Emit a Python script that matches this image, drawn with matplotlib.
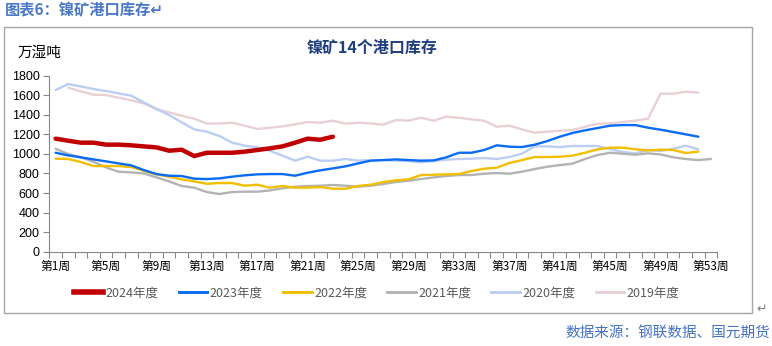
import matplotlib
matplotlib.use("Agg")
import matplotlib.pyplot as plt
from matplotlib.patches import Rectangle
from matplotlib.lines import Line2D

plt.rcParams['font.family'] = ['Noto Sans CJK SC', 'DejaVu Sans']

weeks = [f"第{i}周" for i in range(1, 54)]
tick_weeks = list(range(1, 54, 4))

y2024 = [1156, 1135, 1115, 1115, 1095, 1095, 1088, 1077, 1067, 1033, 1043, 978, 1012,
         1012, 1012, 1023, 1040, 1057, 1077, 1115, 1156, 1145, 1176]
y2023 = [1012, 985, 965, 944, 924, 903, 883, 835, 794, 777, 774, 747, 743, 750, 767, 781,
         791, 794, 794, 777, 808, 832, 852, 873, 903, 931, 937, 944,
         937, 931, 934, 965, 1012, 1012, 1040, 1088, 1074, 1070, 1094, 1131, 1176, 1214,
         1241, 1265, 1289, 1295, 1295, 1268, 1248, 1224, 1200, 1176]
y2022 = [951, 948, 917, 876, 876, 876, 866, 828, 791, 767, 740, 719, 695, 702, 702, 675,
         685, 655, 672, 655, 655, 661, 644, 644, 672, 685, 712, 730,
         740, 784, 787, 791, 794, 825, 849, 859, 907, 937, 968, 968, 971, 982, 1012,
         1047, 1064, 1064, 1047, 1036, 1043, 1040, 1009, 1023]
y2021 = [1053, 999, 965, 920, 862, 818, 811, 801, 760, 719, 672, 655, 610, 590, 610, 614,
         614, 627, 648, 665, 672, 675, 682, 675, 665, 675, 692, 713,
         726, 743, 760, 774, 784, 784, 798, 805, 798, 818, 845, 869, 886, 900, 948,
         989, 1012, 1002, 992, 1006, 995, 965, 948, 937, 948]
y2020 = [1653, 1715, 1690, 1664, 1643, 1619, 1595, 1527, 1459, 1398, 1323, 1251, 1227,
         1183, 1115, 1084, 1067, 1033, 982, 931, 972, 931, 931, 948, 931, 937, 937, 931,
         927, 914, 927, 941, 948, 951, 958, 948, 968, 1002, 1077, 1077, 1070, 1081, 1081,
         1081, 1050, 1019, 1006, 1040, 1030, 1053, 1084, 1047]
y2019 = [None, 1677, 1640, 1606, 1602, 1575, 1548, 1517, 1459, 1425, 1391, 1360, 1309,
         1312, 1319, 1289, 1255, 1268, 1282, 1302, 1326, 1319, 1340, 1309, 1319, 1312,
         1299, 1347, 1340, 1370, 1340, 1381, 1370, 1353, 1340, 1278, 1289, 1251, 1217,
         1227, 1237, 1244, 1278, 1309, 1312, 1326, 1340, 1360, 1616, 1616, 1636, 1626]

series = [
    ("2024年度", y2024, "#C00000", 3.2),
    ("2023年度", y2023, "#0A6CF5", 1.7),
    ("2022年度", y2022, "#F2BE00", 1.7),
    ("2021年度", y2021, "#B3B3B3", 1.7),
    ("2020年度", y2020, "#BCCDF3", 1.7),
    ("2019年度", y2019, "#E9D0D3", 1.7),
]

W, H = 772, 346
fig = plt.figure(figsize=(W / 100, H / 100), dpi=100)

ax = fig.add_axes([49.3 / W, 1 - 251.7 / H, (717.3 - 49.3) / W, (251.7 - 75.7) / H])

handles = []
for name, vals, color, lw in reversed(series):
    xs = [i for i, v in enumerate(vals) if v is not None]
    ys = [v for v in vals if v is not None]
    ax.plot(xs, ys, color=color, lw=lw, solid_capstyle='round', solid_joinstyle='round')
for name, vals, color, lw in series:
    handles.append(Line2D([0], [0], color=color, lw=lw + (0.8 if lw > 3 else 0.4)))

ax.set_xlim(-0.5, len(weeks) - 0.5)
ax.set_ylim(0, 1800)
ax.set_yticks(range(0, 1801, 200))
ax.set_xticks([i - 0.5 for i in range(len(weeks) + 1)], minor=True)
ax.set_xticks([w - 1 for w in tick_weeks])
ax.set_xticklabels([weeks[w - 1] for w in tick_weeks], fontsize=8.5, color='#000000')
ax.tick_params(axis='x', which='major', length=0, pad=6)
ax.tick_params(axis='x', which='minor', length=4, color='#868686', width=0.8)
ax.tick_params(axis='y', length=4, color='#868686', width=0.8, labelsize=9, pad=3)
for lab in ax.get_yticklabels():
    lab.set_fontfamily(['Liberation Sans', 'DejaVu Sans'])
for s in ['top', 'right']:
    ax.spines[s].set_visible(False)
for s in ['left', 'bottom']:
    ax.spines[s].set_color('#868686')
    ax.spines[s].set_linewidth(0.8)

# frame
fig.patches.append(Rectangle((4 / W, 1 - 313 / H), (752 - 4) / W, (313 - 27) / H,
                             transform=fig.transFigure, fill=False, ec='#A6A6A6', lw=1.0))

fig.text(5 / W, 1 - 10 / H, "图表6：镍矿港口库存↵", fontsize=11, fontweight='bold',
         color='#4A78C8', va='center', ha='left', style='italic')
fig.text(18 / W, 1 - 53 / H, "万湿吨", fontsize=10.5, va='center', ha='left', color='#000000')
fig.text(372 / W, 1 - 48 / H, "镍矿14个港口库存", fontsize=11.5, fontweight='bold',
         va='center', ha='center', color='#1F3F80')

leg = fig.legend(handles, [s[0] for s in series], loc='center', ncol=6,
                 bbox_to_anchor=(377 / W, 1 - 293 / H), frameon=False, fontsize=9,
                 handlelength=2.3, handletextpad=0.2, columnspacing=1.6)
for t in leg.get_texts():
    t.set_color('#595959')

fig.text(756 / W, 1 - 309 / H, "↵", fontsize=9, color='#808080', va='center', ha='left')
fig.text(770 / W, 1 - 333 / H, "数据来源：钢联数据、国元期货", fontsize=10.5,
         color='#4472C4', va='center', ha='right')

fig.savefig("out.png", dpi=100)
